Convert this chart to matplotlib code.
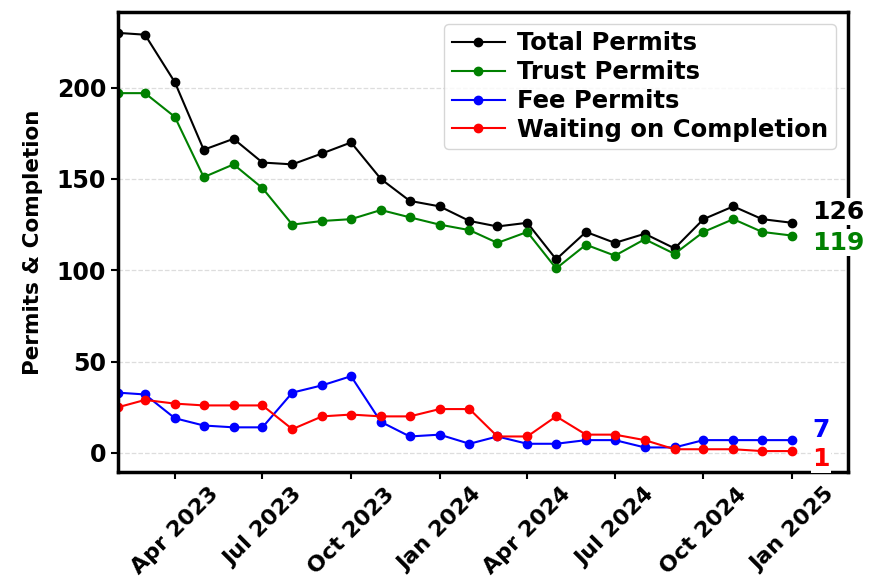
import pandas as pd
import matplotlib
matplotlib.use('Agg')
import matplotlib.pyplot as plt
import matplotlib.dates as mdates

# monthly permit counts, Feb 2023 - Jan 2025
months = pd.date_range('2023-02-01', periods=24, freq='MS')
total_permits = [230, 229, 203, 166, 172, 159, 158, 164, 170, 150, 138, 135,
                 127, 124, 126, 106, 121, 115, 120, 112, 128, 135, 128, 126]
trust_permits = [197, 197, 184, 151, 158, 145, 125, 127, 128, 133, 129, 125,
                 122, 115, 121, 101, 114, 108, 117, 109, 121, 128, 121, 119]
fee_permits = [33, 32, 19, 15, 14, 14, 33, 37, 42, 17, 9, 10,
               5, 9, 5, 5, 7, 7, 3, 3, 7, 7, 7, 7]
waiting = [25, 29, 27, 26, 26, 26, 13, 20, 21, 20, 20, 24,
           24, 9, 9, 20, 10, 10, 7, 2, 2, 2, 1, 1]

series = [
    ('Total Permits', total_permits, 'black', 11),
    ('Trust Permits', trust_permits, 'green', -7),
    ('Fee Permits', fee_permits, 'blue', 10),
    ('Waiting on Completion', waiting, 'red', -8),
]

fig = plt.figure(figsize=(8.71, 5.84), dpi=100)
ax = fig.add_axes([0.1355, 0.1918, 0.838, 0.7877])

for label, vals, color, dy in series:
    ax.plot(months, vals, color=color, marker='o', markersize=6,
            linewidth=1.5, label=label)
    ax.annotate(str(vals[-1]), xy=(months[-1], vals[-1]),
                xytext=(20, dy), textcoords='offset pixels',
                ha='left', va='center', fontsize=18, fontweight='bold',
                color=color, annotation_clip=False, clip_on=False, zorder=10,
                bbox=dict(facecolor='white', edgecolor='none', pad=1))

ax.set_xlim(months[0], pd.Timestamp('2025-02-28'))
ax.xaxis.set_major_locator(mdates.MonthLocator(bymonth=[1, 4, 7, 10]))
ax.xaxis.set_major_formatter(mdates.DateFormatter('%b %Y'))
plt.setp(ax.get_xticklabels(), rotation=45, fontsize=16, fontweight='bold')
plt.setp(ax.get_yticklabels(), fontsize=17, fontweight='bold')

ax.set_ylabel('Permits & Completion', fontsize=15.5, fontweight='bold',
              labelpad=10)
ax.grid(axis='y', linestyle='--', color='#dddddd', linewidth=0.9)
ax.set_axisbelow(True)

for sp in ax.spines.values():
    sp.set_linewidth(2.5)
ax.tick_params(width=1.5, length=5)

ax.legend(loc='upper right', prop={'size': 17.5, 'weight': 'bold'},
          labelspacing=0.2, handlelength=2.2, borderpad=0.3,
          handletextpad=0.5)

fig.savefig('out.png', dpi=100)
